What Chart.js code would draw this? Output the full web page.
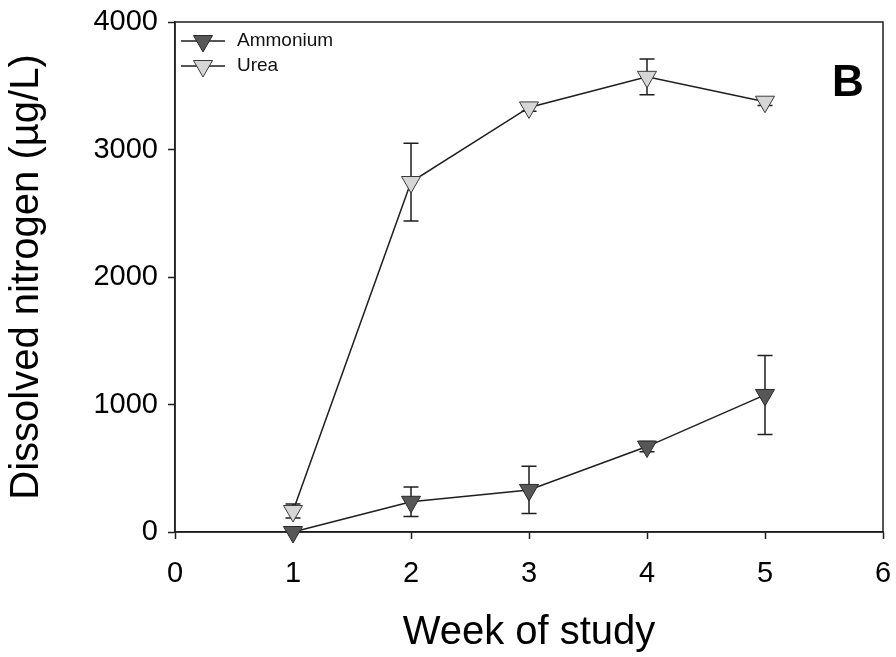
<!DOCTYPE html>
<html>
<head>
<meta charset="utf-8">
<script src="https://cdn.jsdelivr.net/npm/chart.js@4/dist/chart.umd.min.js"></script>
<style>
  html, body { margin: 0; padding: 0; background: #fff; }
  canvas { display: block; }
</style>
</head>
<body>
<canvas id="nitrogen-chart" width="896" height="657"></canvas>
<script>
var weeks = [1, 2, 3, 4, 5];
var ammonium = [0, 237, 330, 670, 1075];
var ammoniumErr = [0, 115, 185, 40, 310];
var urea = [165, 2745, 3330, 3570, 3375];
var ureaErr = [55, 305, 30, 140, 30];

var xTicks = [0, 1, 2, 3, 4, 5, 6];
var yTicks = [0, 1000, 2000, 3000, 4000];

var FONT = '"Liberation Sans", Arial, sans-serif';
var INK = '#1e1e1e';

function points(ys) {
    return weeks.map(function (w, i) { return { x: w, y: ys[i] }; });
}

// error bars go under the markers, box frame around the plot
var errorBars = {
    id: 'errorBars',
    beforeDatasetsDraw: function (chart) {
        var ctx = chart.ctx;
        var area = chart.chartArea;
        ctx.save();
        ctx.strokeStyle = INK;
        ctx.lineWidth = 1.5;
        ctx.strokeRect(area.left, area.top, area.right - area.left, area.bottom - area.top);
        chart.data.datasets.forEach(function (ds) {
            ds.data.forEach(function (p, i) {
                var err = ds.errors[i];
                if (!err) return;
                var x = chart.scales.x.getPixelForValue(p.x);
                var hi = chart.scales.y.getPixelForValue(p.y + err);
                var lo = chart.scales.y.getPixelForValue(p.y - err);
                ctx.beginPath();
                ctx.moveTo(x, hi); ctx.lineTo(x, lo);
                ctx.moveTo(x - 7.5, hi); ctx.lineTo(x + 7.5, hi);
                ctx.moveTo(x - 7.5, lo); ctx.lineTo(x + 7.5, lo);
                ctx.stroke();
            });
        });
        ctx.restore();
    }
};

// legend in the upper left corner, marker sitting on a short line, plus the panel letter
var cornerLegend = {
    id: 'cornerLegend',
    afterDraw: function (chart) {
        var ctx = chart.ctx;
        var area = chart.chartArea;
        chart.data.datasets.forEach(function (ds, i) {
            var y = area.top + 19 + i * 25;
            var x0 = area.left + 6;
            ctx.save();
            ctx.strokeStyle = INK;
            ctx.lineWidth = 1.5;
            ctx.beginPath();
            ctx.moveTo(x0, y); ctx.lineTo(x0 + 44, y);
            ctx.stroke();
            ctx.fillStyle = ds.pointBackgroundColor;
            ctx.strokeStyle = ds.pointBorderColor;
            ctx.lineWidth = 1;
            Chart.helpers.drawPoint(ctx, {
                pointStyle: 'triangle', rotation: 180, radius: 11, borderWidth: 1
            }, x0 + 22, y);
            ctx.fillStyle = '#111';
            ctx.font = '19px ' + FONT;
            ctx.textBaseline = 'middle';
            ctx.fillText(ds.label, x0 + 56, y);
            ctx.restore();
        });
        ctx.save();
        ctx.font = 'bold 44px ' + FONT;
        ctx.fillStyle = '#000';
        ctx.textBaseline = 'alphabetic';
        ctx.fillText('B', area.right - 51, area.top + 74);
        ctx.restore();
    }
};

var ctx = document.getElementById('nitrogen-chart').getContext('2d');
var chart = new Chart(ctx, {
    type: 'line',
    data: {
        datasets: [
            {
                label: 'Ammonium', data: points(ammonium), errors: ammoniumErr,
                borderColor: INK, borderWidth: 1.5,
                pointStyle: 'triangle', rotation: 180, pointRadius: 11,
                pointBackgroundColor: '#575757', pointBorderColor: '#2a2a2a', pointBorderWidth: 1,
                clip: false
            },
            {
                label: 'Urea', data: points(urea), errors: ureaErr,
                borderColor: INK, borderWidth: 1.5,
                pointStyle: 'triangle', rotation: 180, pointRadius: 11,
                pointBackgroundColor: '#d6d6d6', pointBorderColor: '#3a3a3a', pointBorderWidth: 1,
                clip: false
            }
        ]
    },
    options: {
        responsive: false,
        animation: false,
        layout: { padding: { top: 22, right: 13, left: 0, bottom: 0 } },
        plugins: { legend: { display: false }, tooltip: { enabled: false } },
        scales: {
            x: {
                type: 'linear', min: 0, max: 6,
                afterBuildTicks: function (s) { s.ticks = xTicks.map(function (v) { return { value: v }; }); },
                afterFit: function (s) { s.height = 125; s.paddingLeft = 0; s.paddingRight = 0; },
                ticks: { color: '#000', font: { family: FONT, size: 29 }, padding: 18,
                    callback: function (v) { return String(v); } },
                grid: { drawOnChartArea: false, tickLength: 7, tickWidth: 1.5, tickColor: INK },
                border: { color: INK, width: 1.5 },
                title: { display: true, text: 'Week of study', color: '#000', font: { family: FONT, size: 40 }, padding: { top: 0, bottom: 0 } }
            },
            y: {
                min: 0, max: 4000,
                afterBuildTicks: function (s) { s.ticks = yTicks.map(function (v) { return { value: v }; }); },
                afterFit: function (s) { s.width = 175; s.paddingTop = 0; s.paddingBottom = 0; },
                ticks: { color: '#000', font: { family: FONT, size: 29 }, padding: 10,
                    callback: function (v) { return String(v); } },
                grid: { drawOnChartArea: false, tickLength: 7, tickWidth: 1.5, tickColor: INK },
                border: { color: INK, width: 1.5 },
                title: { display: true, text: 'Dissolved nitrogen (µg/L)', color: '#000', font: { family: FONT, size: 40 }, padding: { top: 3, bottom: 0 } }
            }
        }
    },
    plugins: [errorBars, cornerLegend]
});
</script>
</body>
</html>
